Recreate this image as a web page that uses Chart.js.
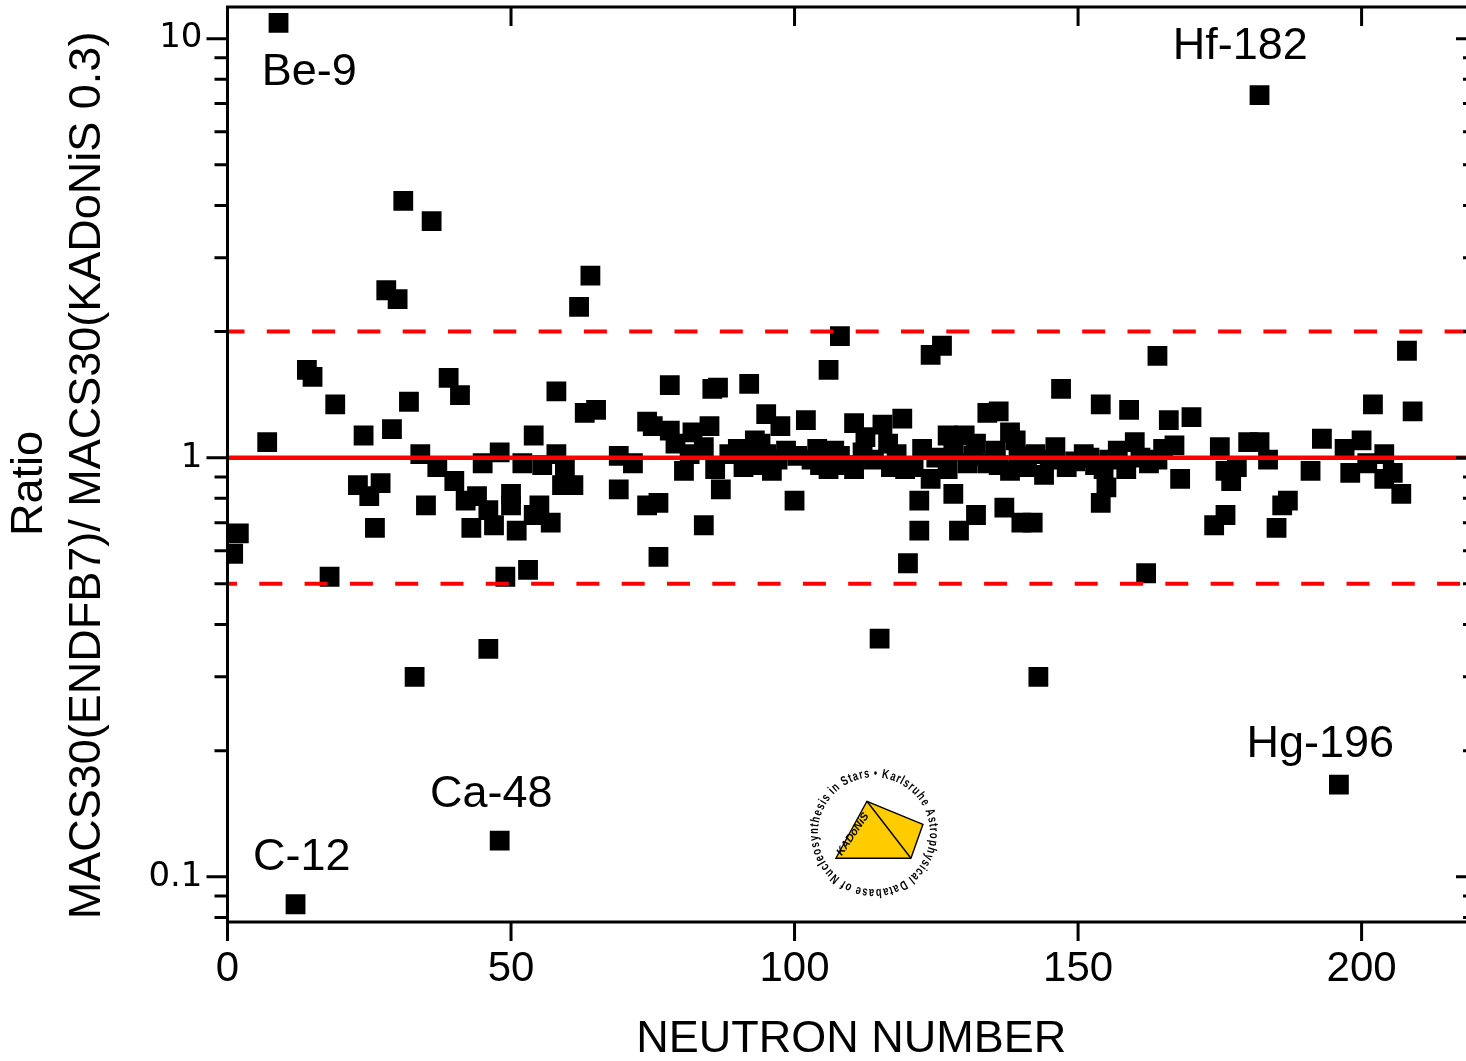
<!DOCTYPE html>
<html>
<head>
<meta charset="utf-8">
<title>MACS30 ratio ENDF/B-VII / KADoNiS 0.3</title>
<script src="https://cdn.jsdelivr.net/npm/chart.js@4.4.1/dist/chart.umd.min.js"></script>
<style>
  html, body { margin: 0; padding: 0; background: #fff; overflow: hidden; }
  #wrap { position: relative; width: 1480px; height: 1061px; }
</style>
</head>
<body>
<div id="wrap"><canvas id="ratioChart" width="1480" height="1061"></canvas></div>
<script>
// x value of each isotope as plotted, and MACS30(ENDFB7) / MACS30(KADoNiS 0.3)
const neutronNumber = [
  1, 2, 7, 9, 12, 14, 15, 18, 19, 23, 24, 25, 26, 27, 28, 29, 30, 31, 32, 33,
  34, 35, 36, 37, 39, 40, 41, 42, 43, 44, 45, 46, 46, 47, 48, 48, 49, 50, 50, 51,
  52, 53, 54, 54, 55, 55.5, 57, 58, 58, 59, 59.5, 61, 62, 63, 64, 65, 69, 69, 71.5, 74,
  74, 75, 76, 76, 78, 78, 79, 80.5, 81.5, 82, 84, 84, 85, 85.5, 86, 86.5, 87, 88.5, 90, 91,
  92, 92, 93, 93, 94, 95, 95, 96, 97, 97.5, 98.5, 100, 100.5, 102, 103, 104, 104.5, 106, 106, 107,
  108, 108, 109, 110.5, 110.5, 112, 112.5, 114, 115, 115.5, 116.5, 117, 118, 119, 119.5, 120, 121, 122, 122, 122.5,
  124, 124, 125, 126, 127, 127, 128, 128, 129, 130, 130.5, 132, 132, 131.5, 134, 134, 135.5, 136, 136, 137,
  138, 138, 139, 139.5, 140, 141, 142, 142.5, 143, 144, 145, 146, 147, 148, 149.5, 151, 152, 153, 154, 154,
  154.5, 155, 155.5, 157, 158.5, 159, 160, 161, 162, 162.5, 164, 164, 165, 166, 167, 168, 170, 174, 175, 176,
  176, 177, 178, 180, 182, 182, 183.5, 185, 186, 187, 191, 193, 196, 197, 198, 200, 201, 202, 204, 204,
  205.5, 207, 208, 209
];
const macsRatio = [
  0.59, 0.66, 1.09, 10.9, 0.086, 1.62, 1.56, 0.52, 1.34, 0.86, 1.13, 0.81, 0.68, 0.87, 2.51, 1.17, 2.39, 4.1, 1.36, 0.30,
  1.02, 0.77, 3.67, 0.95, 1.55, 0.88, 1.41, 0.79, 0.68, 0.81, 0.97, 0.35, 0.75, 0.69, 0.122, 1.03, 0.52, 0.82, 0.77, 0.67,
  0.97, 0.54, 1.13, 0.73, 0.77, 0.96, 0.70, 1.44, 1.02, 0.86, 0.94, 0.86, 2.29, 1.28, 2.72, 1.30, 1.01, 0.84, 0.97, 1.22,
  0.77, 1.19, 0.78, 0.58, 1.16, 1.49, 1.08, 0.93, 1.02, 1.15, 1.06, 0.69, 1.19, 1.46, 0.94, 1.47, 0.84, 1.02, 1.05, 0.95,
  1.50, 0.99, 1.10, 0.96, 1.08, 1.27, 1.02, 0.93, 0.99, 1.19, 1.04, 0.79, 1.01, 1.23, 0.99, 1.05, 0.96, 1.62, 0.94, 1.04,
  1.95, 1.01, 0.96, 1.21, 0.94, 1.03, 1.12, 0.99, 0.37, 1.20, 1.08, 0.95, 1.02, 1.24, 0.94, 0.56, 0.95, 0.79, 0.67, 1.05,
  1.76, 0.89, 1.00, 1.85, 1.13, 0.94, 0.82, 1.04, 0.67, 1.13, 0.97, 0.73, 1.08, 1.01, 1.28, 0.97, 1.04, 1.29, 0.96, 0.76,
  1.15, 0.93, 1.10, 1.01, 0.70, 0.95, 0.70, 1.02, 0.30, 0.91, 0.99, 1.06, 1.46, 0.95, 0.98, 1.02, 1.00, 0.96, 1.34, 0.78,
  0.94, 0.85, 0.99, 1.04, 0.94, 1.30, 1.09, 1.00, 0.53, 0.97, 1.75, 0.99, 1.05, 1.23, 1.07, 0.89, 1.25, 0.69, 1.06, 0.93,
  0.73, 0.88, 0.95, 1.09, 7.33, 1.09, 0.99, 0.68, 0.77, 0.79, 0.93, 1.11, 0.166, 1.05, 0.92, 1.10, 0.97, 1.34, 1.02, 0.89,
  0.92, 0.82, 1.80, 1.29
];

// agreement line and the factor-of-two band
const unityLevel = [1];
const factorTwoLevels = [2, 0.5];

const xRange = [0, 220];
const yRange = [0.078, 11.9];
const xTickValues = [0, 50, 100, 150, 200];
const yTickValues = [0.1, 1, 10];

// outliers that carry a name, text centre in axis units
const isotopeNotes = [
  { text: 'Be-9', n: 14.4, ratio: 8.28 },
  { text: 'Hf-182', n: 178.6, ratio: 9.55 },
  { text: 'Hg-196', n: 192.7, ratio: 0.207 },
  { text: 'Ca-48', n: 46.5, ratio: 0.157 },
  { text: 'C-12', n: 13.1, ratio: 0.111 }
];
const logoAnchor = { n: 114, ratio: 0.127 };

const SANS = '"Liberation Sans", Arial, sans-serif';

function drawLogo(ctx, cx, cy) {
  ctx.save();
  // ring of text, letters standing outward, read clockwise
  const ring = 'Karlsruhe Astrophysical Database of Nucleosynthesis in Stars \u2022 ';
  ctx.font = 'bold 13px ' + SANS;
  ctx.fillStyle = '#000';
  ctx.textAlign = 'center';
  ctx.textBaseline = 'alphabetic';
  const chars = [...ring];
  const widths = chars.map(ch => ctx.measureText(ch).width);
  const total = widths.reduce((s, w) => s + w, 0);
  const r = 56;
  let ang = -1.45;
  chars.forEach((ch, i) => {
    const step = widths[i] / total * Math.PI * 2;
    const mid = ang + step / 2;
    ctx.save();
    ctx.translate(cx + r * Math.cos(mid), cy + r * Math.sin(mid));
    ctx.rotate(mid + Math.PI / 2);
    ctx.scale(0.72, 1);
    ctx.fillText(ch, 0, 0);
    ctx.restore();
    ang += step;
  });

  // the pyramid
  const bl = [cx - 38, cy + 25], apex = [cx - 7, cy - 32], rt = [cx + 49, cy - 9], br = [cx + 37, cy + 25];
  ctx.beginPath();
  ctx.moveTo(...bl); ctx.lineTo(...apex); ctx.lineTo(...rt); ctx.lineTo(...br);
  ctx.closePath();
  ctx.fillStyle = '#ffcc00';
  ctx.fill();
  ctx.lineWidth = 1.4;
  ctx.strokeStyle = '#000';
  ctx.stroke();
  ctx.beginPath();
  ctx.moveTo(...apex); ctx.lineTo(...br);
  ctx.stroke();

  ctx.translate(cx - 21, cy + 1);
  ctx.rotate(-0.98);
  ctx.font = 'italic bold 11px ' + SANS;
  ctx.fillStyle = '#000';
  ctx.textBaseline = 'middle';
  ctx.fillText('KADoNiS', 0, 0);
  ctx.restore();
}

const frameAndLabels = {
  id: 'frameAndLabels',
  afterDatasetsDraw(chart) {
    const { ctx, scales: { x, y } } = chart;
    ctx.save();
    ctx.fillStyle = '#000';
    ctx.textAlign = 'center';
    ctx.textBaseline = 'middle';
    ctx.font = '45px ' + SANS;
    isotopeNotes.forEach(note => {
      ctx.fillText(note.text, x.getPixelForValue(note.n), y.getPixelForValue(note.ratio));
    });
    ctx.restore();
    drawLogo(ctx, x.getPixelForValue(logoAnchor.n), y.getPixelForValue(logoAnchor.ratio));
  },
  afterDraw(chart) {
    const { ctx, chartArea: a, scales: { x, y } } = chart;
    ctx.save();
    ctx.strokeStyle = '#000';
    ctx.lineWidth = 3;
    ctx.beginPath();
    // x ticks: out at the bottom, in at the top
    xTickValues.forEach(v => {
      const px = x.getPixelForValue(v);
      ctx.moveTo(px, a.bottom); ctx.lineTo(px, a.bottom + 19);
      if (v > xRange[0]) { ctx.moveTo(px, a.top); ctx.lineTo(px, a.top + 19); }
    });
    // log ticks: out on the left, in on the right
    for (let e = -2; e <= 1; e++) {
      for (let k = 1; k <= 9; k++) {
        const v = k * Math.pow(10, e);
        if (v < yRange[0] || v > yRange[1]) continue;
        const py = y.getPixelForValue(v);
        ctx.moveTo(a.left - (k === 1 ? 21 : 13), py); ctx.lineTo(a.left, py);
        ctx.moveTo(a.right - (k === 1 ? 19 : 12), py); ctx.lineTo(a.right, py);
      }
    }
    ctx.stroke();
    ctx.strokeRect(a.left, a.top, a.right - a.left, a.bottom - a.top);

    // axis titles
    ctx.fillStyle = '#000';
    ctx.textAlign = 'center';
    ctx.textBaseline = 'middle';
    ctx.font = '45px ' + SANS;
    ctx.fillText('NEUTRON NUMBER', (a.left + a.right) / 2, a.bottom + 118);
    const midY = (a.top + a.bottom) / 2;
    ctx.save();
    ctx.translate(a.left - 197.5, midY + 19);
    ctx.rotate(-Math.PI / 2);
    ctx.fillText('Ratio', 0, 0);
    ctx.restore();
    ctx.save();
    ctx.translate(a.left - 139.5, midY + 11);
    ctx.rotate(-Math.PI / 2);
    ctx.fillText('MACS30(ENDFB7)/ MACS30(KADoNiS 0.3)', 0, 0);
    ctx.restore();
    ctx.restore();
  }
};

const refLine = (level, dash, offset) => ({
  type: 'line',
  data: xRange.map(n => ({ x: n, y: level })),
  borderColor: '#ff0000',
  borderWidth: dash.length ? 4 : 4.5,
  borderDash: dash,
  borderDashOffset: offset,
  pointRadius: 0,
  fill: false,
  order: 0
});

// keep the plot frame where it is, labels may hang over the edges
const fixedBox = (size) => (s) => {
  if (s.isHorizontal()) s.height = size; else s.width = size;
  s.paddingTop = 0; s.paddingBottom = 0; s.paddingLeft = 0; s.paddingRight = 0;
};

new Chart(document.getElementById('ratioChart'), {
  type: 'scatter',
  data: {
    datasets: [
      refLine(unityLevel[0], [], 0),
      refLine(factorTwoLevels[0], [23, 22.3], 6),
      refLine(factorTwoLevels[1], [23, 22.3], 13.5),
      {
        type: 'scatter',
        data: neutronNumber.map((n, i) => ({ x: n, y: macsRatio[i] })),
        pointStyle: 'rect',
        pointRadius: 14,
        backgroundColor: '#000',
        borderWidth: 0,
        order: 1
      }
    ]
  },
  options: {
    responsive: false,
    animation: false,
    devicePixelRatio: 1,
    layout: { autoPadding: false, padding: { top: 7, right: 5, left: 0, bottom: 0 } },
    plugins: { legend: { display: false }, tooltip: { enabled: false } },
    scales: {
      x: {
        type: 'linear',
        min: xRange[0],
        max: xRange[1],
        grid: { display: false, drawTicks: false },
        border: { display: false },
        afterBuildTicks: s => { s.ticks = xTickValues.map(v => ({ value: v })); },
        afterFit: fixedBox(139),
        ticks: {
          autoSkip: false,
          maxRotation: 0,
          padding: 22,
          color: '#000',
          font: { family: SANS, size: 42 },
          callback: v => String(v)
        }
      },
      y: {
        type: 'logarithmic',
        min: yRange[0],
        max: yRange[1],
        grid: { display: false, drawTicks: false },
        border: { display: false },
        afterBuildTicks: s => { s.ticks = yTickValues.map(v => ({ value: v })); },
        afterFit: fixedBox(227.5),
        ticks: {
          autoSkip: false,
          padding: 25,
          color: '#000',
          font: { family: '"DejaVu Sans", Verdana, sans-serif', size: 34 },
          callback: v => String(v)
        }
      }
    }
  },
  plugins: [frameAndLabels]
});
</script>
</body>
</html>
